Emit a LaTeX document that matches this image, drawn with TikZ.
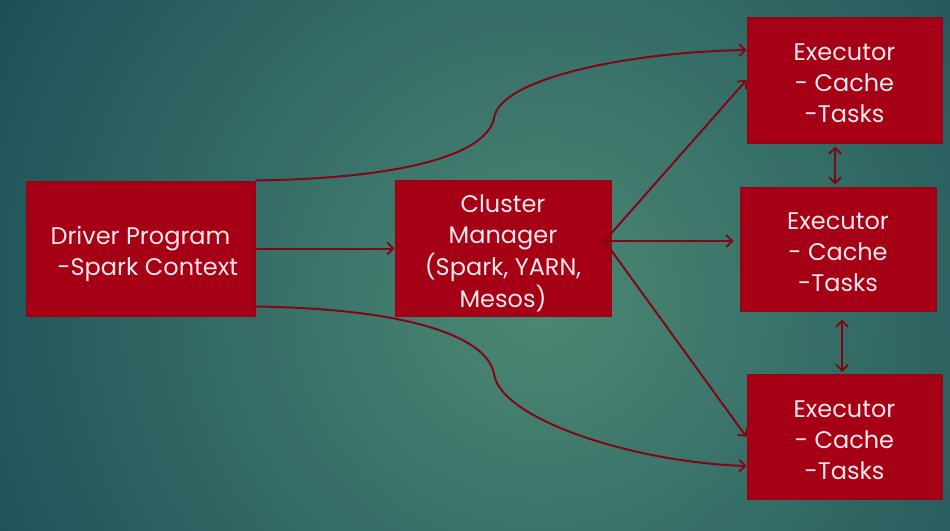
\documentclass[tikz,border=0pt]{standalone}
\usepackage{fontspec}
\setmainfont{Poppins}
\usetikzlibrary{arrows.meta}
\definecolor{bgin}{RGB}{76,136,116}
\definecolor{bgout}{RGB}{28,80,88}
\definecolor{boxfill}{RGB}{166,0,22}
\definecolor{boxline}{RGB}{135,10,25}
\definecolor{linkc}{RGB}{128,8,22}
\definecolor{txt}{RGB}{252,232,232}
\newcommand{\tblines}[1]{\begin{tabular}{@{}c@{}}\rule{0pt}{32pt}#1\end{tabular}}
\tikzset{
  box/.style={draw=boxline, line width=1pt, fill=boxfill, text=txt, align=center,
    font=\fontsize{24}{31}\selectfont, inner sep=0pt},
  link/.style={draw=linkc, line width=2pt, -{Straight Barb[length=6pt,width=12pt,line width=1.8pt]}},
  dlink/.style={draw=linkc, line width=2pt, {Straight Barb[length=6pt,width=12pt,line width=1.8pt]}-{Straight Barb[length=6pt,width=12pt,line width=1.8pt]}}
}
\begin{document}
\begin{tikzpicture}[x=1pt,y=-1pt]
\useasboundingbox (0,0) rectangle (950,530);
\begin{scope}
\clip (0,0) rectangle (950,530);
\shade[inner color=bgin, outer color=bgout] (540,300) circle (620);
\end{scope}
\node[box, minimum width=229pt, minimum height=135pt] (driver) at (140.5,248.5) {\tblines{Driver Program\\\hspace*{0.6em}-Spark Context}};
\node[box, minimum width=216pt, minimum height=131pt] (cluster) at (503,248.5) {\tblines{Cluster\\Manager\\(Spark, YARN,\\Mesos)}};
\node[box, minimum width=195pt, minimum height=126pt] (exec1) at (844.5,80) {\tblines{Executor\\- Cache\\-Tasks}};
\node[box, minimum width=196pt, minimum height=124pt] (exec2) at (838,249) {\tblines{Executor\\- Cache\\-Tasks}};
\node[box, minimum width=195pt, minimum height=125pt] (exec3) at (844.5,437) {\tblines{Executor\\- Cache\\-Tasks}};
% driver links
\draw[link] (driver.east) -- (cluster.west);
\draw[link] (driver.north east) .. controls (420,178) and (488,150) .. (494,118)
  .. controls (500,78) and (630,52) .. ([yshift=30pt]exec1.west);
\draw[link] ([yshift=10pt]driver.south east) .. controls (420,309) and (488,340) .. (494,374)
  .. controls (500,418) and (630,462) .. ([yshift=-29pt]exec3.west);
% cluster links
\draw[link] ([xshift=-7pt,yshift=7.5pt]cluster.east) -- (exec1.west);
\draw[link] ([xshift=-7pt,yshift=7.5pt]cluster.east) -- ([xshift=-6pt,yshift=8pt]exec2.west);
\draw[link] ([xshift=-7pt,yshift=7.5pt]cluster.east) -- (exec3.west);
% executor links
\draw[dlink] ([xshift=-9.5pt,yshift=-3pt]exec1.south) -- ([xshift=-3pt,yshift=2pt]exec2.north);
\draw[dlink] ([xshift=4pt,yshift=-8pt]exec2.south) -- ([xshift=-2.5pt,yshift=2pt]exec3.north);
\end{tikzpicture}
\end{document}
